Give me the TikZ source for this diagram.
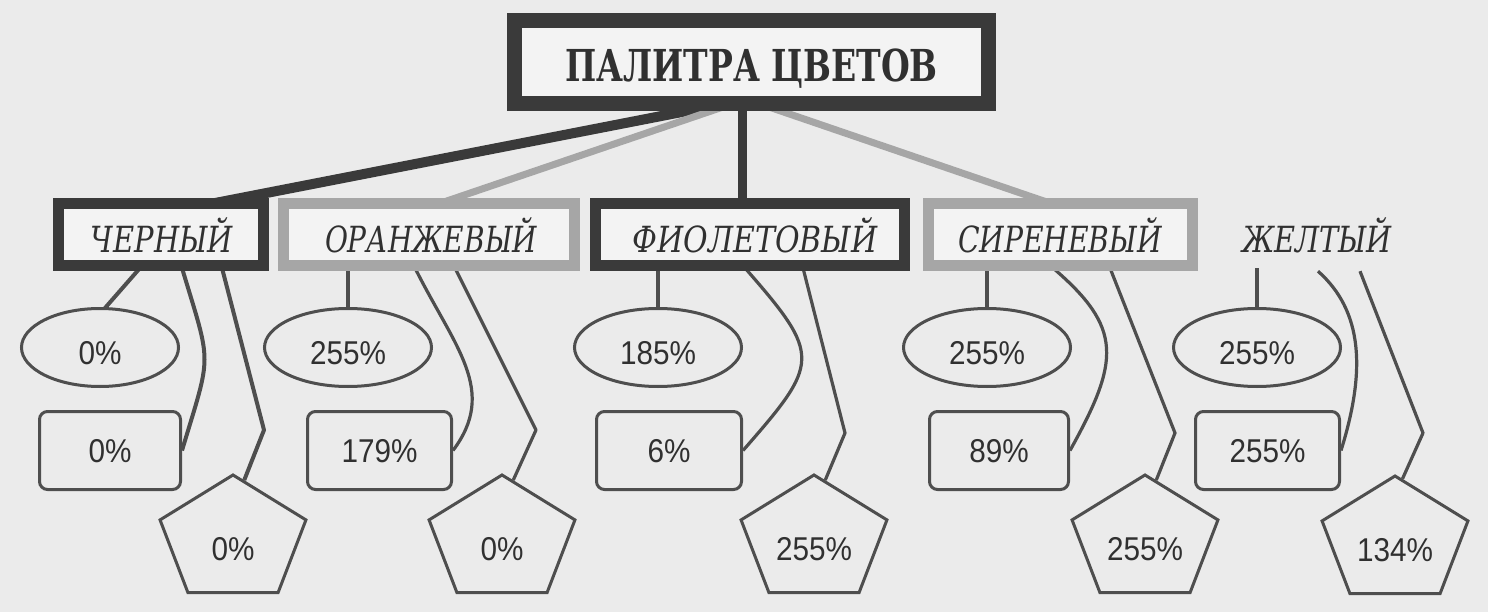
\documentclass[tikz,border=0pt]{standalone}
\usepackage{fontspec}
\usepackage{graphicx}
\usetikzlibrary{calc,shapes.geometric}
\newfontfamily\serifru{DejaVu Serif}
\newfontfamily\valfont{Liberation Sans}
\definecolor{bgc}{HTML}{EBEBEB}
\definecolor{boxfill}{HTML}{F3F3F3}
\definecolor{darkc}{HTML}{3A3A3A}
\definecolor{grayc}{HTML}{A6A6A6}
\definecolor{linec}{HTML}{4E4E4E}
\definecolor{textc}{HTML}{303030}
\pgfdeclarelayer{back}
\pgfdeclarelayer{conn}
\pgfsetlayers{back,conn,main}
\newcommand{\fitw}[2]{\resizebox{#1pt}{\height}{#2}}
\newcommand{\val}[1]{\scalebox{0.9}[1]{#1}}
\newcommand{\pval}[1]{\scalebox{0.763}[1]{#1}}
\begin{document}
\begin{tikzpicture}[x=1pt,y=-1pt,
 mainbox/.style={rectangle,draw=darkc,line width=15pt,fill=boxfill,minimum width=474pt,minimum height=83pt,inner sep=0pt},
 ttl/.style={font=\serifru\bfseries\fontsize{44}{50}\selectfont,text=textc,inner sep=0pt,text height=32pt,text depth=0pt},
 lbox/.style={rectangle,line width=11pt,fill=boxfill,minimum height=62pt,inner sep=0pt},
 lboxdark/.style={lbox,draw=darkc},
 lboxgray/.style={lbox,draw=grayc},
 ltxt/.style={font=\serifru\itshape\fontsize{36}{40}\selectfont,text=textc,inner sep=0pt,text height=26pt,text depth=0pt},
 vtxt/.style={font=\valfont\fontsize{33}{36}\selectfont,text=textc,inner sep=0pt,text depth=0pt},
 ell/.style={ellipse,draw=linec,line width=3pt,minimum width=167pt,minimum height=78pt,vtxt,text height=33.6pt},
 rct/.style={rectangle,rounded corners=8pt,draw=linec,line width=3pt,minimum height=78pt,vtxt,text height=23.6pt},
 pent/.style={regular polygon,regular polygon sides=5,draw=linec,line width=3pt,minimum size=130pt,vtxt,text height=40.6pt,transform shape,xscale=1.18},
 darkconn/.style={draw=darkc,line width=10pt},
 grayconn/.style={draw=grayc,line width=7pt},
 vconn/.style={draw=darkc,line width=9pt},
 cline/.style={draw=linec,line width=3.2pt,line join=round},
 clinea/.style={draw=linec,line width=4pt,line join=round}
]
\begin{pgfonlayer}{back}
\fill[bgc] (0,0) rectangle (1488,612);
\end{pgfonlayer}
\useasboundingbox (0,0) rectangle (1488,612);

% top
\node[mainbox] (main) at (751.5,62) {};
\node[ttl] (title) at (751.5,66) {\fitw{373}{ПАЛИТРА ЦВЕТОВ}};

% level 2
\node[lboxdark,minimum width=205pt] (ch) at (161,234.5) {};
\node[lboxgray,minimum width=291pt] (or) at (429,234.5) {};
\node[lboxdark,minimum width=309pt] (fi) at (750,234.5) {};
\node[lboxgray,minimum width=264pt] (si) at (1060.5,234.5) {};
\node[ltxt] (cht) at (162,240) {\fitw{142}{ЧЕРНЫЙ}};
\node[ltxt] (ort) at (431,240) {\fitw{212}{ОРАНЖЕВЫЙ}};
\node[ltxt] (fit) at (755,240) {\fitw{245}{ФИОЛЕТОВЫЙ}};
\node[ltxt] (sit) at (1060,240) {\fitw{204}{СИРЕНЕВЫЙ}};
\node[ltxt] (ye) at (1317,240) {\fitw{150}{ЖЕЛТЫЙ}};

% ellipses
\node[ell,minimum width=157pt] (e1) at (100,347.5) {\val{0\%}};
\node[ell] (e2) at (348,347.5) {\val{255\%}};
\node[ell] (e3) at (658,347.5) {\val{185\%}};
\node[ell] (e4) at (987,347.5) {\val{255\%}};
\node[ell] (e5) at (1257,347.5) {\val{255\%}};

% rounded rectangles
\node[rct,minimum width=141pt] (r1) at (110,450.5) {\val{0\%}};
\node[rct,minimum width=144pt] (r2) at (379.5,450.5) {\val{179\%}};
\node[rct,minimum width=145pt] (r3) at (669,450.5) {\val{6\%}};
\node[rct,minimum width=139pt] (r4) at (999,450.5) {\val{89\%}};
\node[rct,minimum width=144pt] (r5) at (1267.5,450.5) {\val{255\%}};

% pentagons
\begin{scope}[shift={(233,540)}]\node[pent] (p1) at (0,0) {\pval{0\%}};\end{scope}
\begin{scope}[shift={(502,540)}]\node[pent] (p2) at (0,0) {\pval{0\%}};\end{scope}
\begin{scope}[shift={(814,540)}]\node[pent] (p3) at (0,0) {\pval{255\%}};\end{scope}
\begin{scope}[shift={(1145,540)}]\node[pent] (p4) at (0,0) {\pval{255\%}};\end{scope}
\begin{scope}[shift={(1395,541)}]\node[pent] (p5) at (0,0) {\pval{134\%}};\end{scope}

\begin{pgfonlayer}{conn}
\coordinate (apex) at ($(main.south)+(-8,-11)$);
\draw[darkconn] (apex) -- ($(ch.north)+(49,6)$);
\draw[grayconn] (apex) -- ($(or.north)+(9,6)$);
\draw[vconn] ($(main.south)+(-9.5,-11)$) -- ($(fi.north)+(-8,6)$);
\draw[grayconn] ($(apex)+(5,0)$) -- ($(si.north)+(-8,6)$);

% column 1
\draw[clinea] ($(ch.south)+(-21,-3)$) -- ($(e1.north)+(5,1)$);
\draw[clinea] ($(ch.south)+(21,-3)$) .. controls +(30,100) and +(30,-100) .. (r1.east);
\draw[clinea] ($(ch.south)+(61,-3)$) -- (264,430) -- ($(p1.corner 1)!0.15!(p1.corner 5)$);
% column 2
\draw[cline] ($(e2.north |- or.south)+(0,-3)$) -- (e2.north);
\draw[cline] ($(or.south)+(-14,-3)$) .. controls +(40,80) and +(45,-60) .. (r2.east);
\draw[cline] ($(or.south)+(26,-3)$) -- (536,430) -- ($(p2.corner 1)!0.15!(p2.corner 5)$);
% column 3
\draw[cline] ($(e3.north |- fi.south)+(0,-3)$) -- (e3.north);
\draw[cline] ($(fi.south)+(-5,-3)$) .. controls +(77,88) and +(77,-88) .. (r3.east);
\draw[cline] ($(fi.south)+(53,-3)$) -- (845,433) -- ($(p3.corner 1)!0.15!(p3.corner 5)$);
% column 4
\draw[cline] ($(e4.north |- si.south)+(0,-3)$) -- (e4.north);
\draw[cline] ($(si.south)+(-7.5,-3)$) .. controls +(70,60) and +(50,-90) .. (r4.east);
\draw[cline] ($(si.south)+(49.5,-3)$) -- (1175,433) -- ($(p4.corner 1)!0.15!(p4.corner 5)$);
% column 5
\draw[cline] ($(e5.north |- ye.south)+(0,15)$) -- (e5.north);
\draw[cline] ($(ye.south)+(1,18)$) .. controls +(45,40) and +(25,-80) .. (r5.east);
\draw[cline] ($(ye.south)+(43,18)$) -- (1423,433) -- ($(p5.corner 1)!0.1!(p5.corner 5)$);
\end{pgfonlayer}
\end{tikzpicture}
\end{document}
